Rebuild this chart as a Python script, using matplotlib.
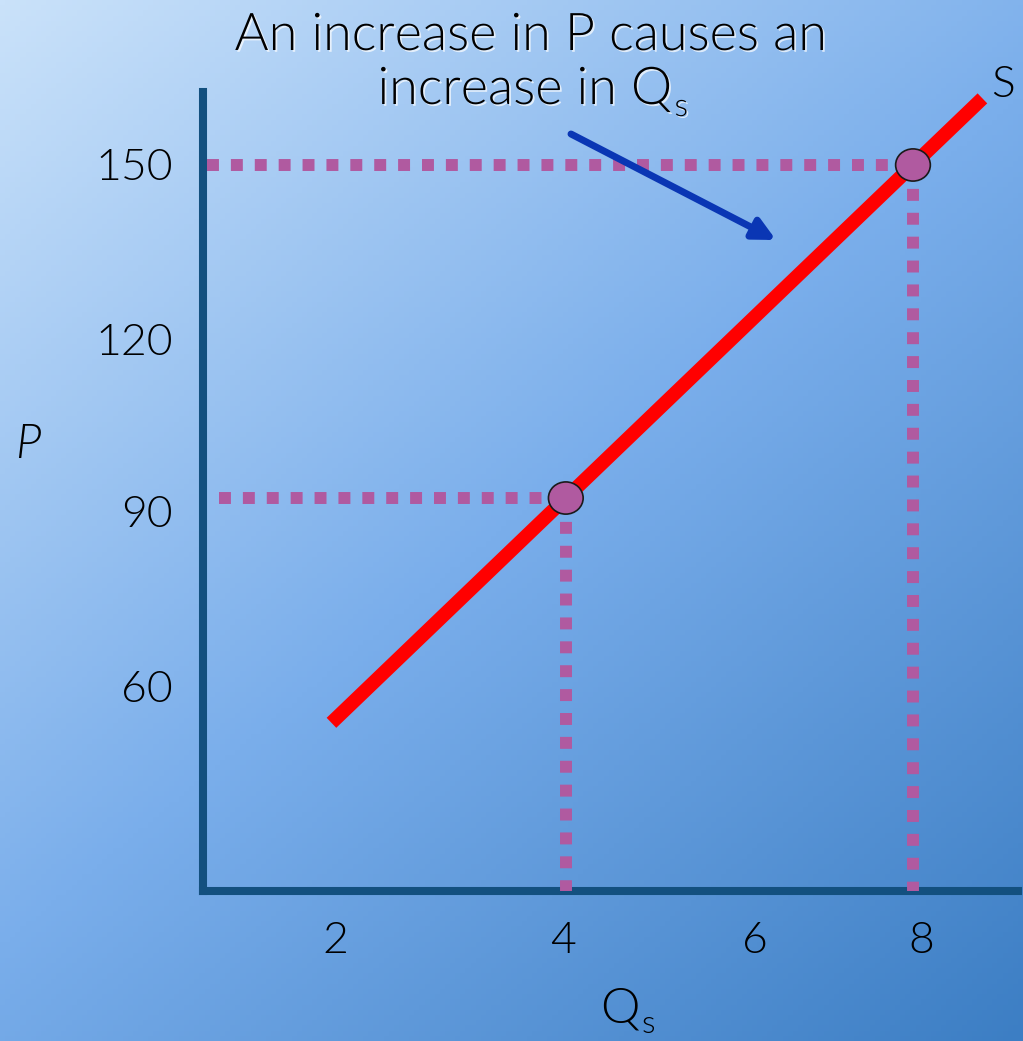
import numpy as np
import matplotlib
matplotlib.use("Agg")
import matplotlib.pyplot as plt
from matplotlib.patches import Ellipse, FancyArrowPatch
import matplotlib.patheffects as pe

# ---- data ----
q_ticks = [2, 4, 6, 8]
p_ticks = [60, 90, 120, 150]
supply_q = [1.3, 8.8]          # quantity supplied at the ends of the S curve
supply_p = [49.5, 162.0]       # price at the ends of the S curve
points_q = [4, 8]
points_p = [90, 150]
title_lines = ["An increase in P causes an", "increase in Q"]

# hand-placed label positions along the axes (data units)
q_label_pos = [1.34, 3.97, 6.18, 8.10]
p_label_pos = [56.1, 87.5, 118.5, 150.0]

FONT = ["Lato", "DejaVu Sans"]
plt.rcParams["font.family"] = FONT
WT = 300

W, H = 1023, 1041
fig = plt.figure(figsize=(W / 100, H / 100), dpi=100)

# diagonal blue gradient backdrop
bg = fig.add_axes([0, 0, 1, 1], zorder=-10)
yy, xx = np.mgrid[0:1:200j, 0:1:200j]
t = np.clip((0.45 * xx + 0.55 * yy), 0, 1)[..., None]
c0 = np.array([202, 226, 250]) / 255
c1 = np.array([122, 174, 235]) / 255
c2 = np.array([60, 126, 196]) / 255
img = np.where(t < 0.5, c0 + (c1 - c0) * (t / 0.5), c1 + (c2 - c1) * ((t - 0.5) / 0.5))
bg.imshow(img, extent=[0, 1, 0, 1], origin="upper", aspect="auto")
bg.axis("off")

ax = fig.add_axes([203 / W, (H - 891) / H, (1018 - 203) / W, (891 - 92) / H])
ax.set_facecolor("none")
ax.set_xlim(-0.18, 9.21)
ax.set_ylim(19.2, 163.15)

spine_c = "#13507f"
for s in ["top", "right"]:
    ax.spines[s].set_visible(False)
for s in ["left", "bottom"]:
    ax.spines[s].set_color(spine_c)
    ax.spines[s].set_linewidth(5.8)
    ax.spines[s].set_capstyle("projecting")

ax.set_xticks(q_label_pos, [str(v) for v in q_ticks])
ax.set_yticks(p_label_pos, [str(v) for v in p_ticks])
ax.tick_params(length=0, labelsize=32, labelcolor="black")
ax.tick_params(axis="x", pad=22)
ax.tick_params(axis="y", pad=22)
for lab in ax.get_xticklabels() + ax.get_yticklabels():
    lab.set_fontweight(WT)

# dotted guides from the points to the axes
dot_c = "#b05aa0"
dot_kw = dict(color=dot_c, lw=8.6, linestyle=(0, (1, 1)), dash_capstyle="butt", zorder=3)
ax.plot([-0.13, points_q[1]], [points_p[1], points_p[1]], **dot_kw)
ax.plot([points_q[1], points_q[1]], [points_p[1], 19.2], **dot_kw)
ax.plot([0.0, points_q[0]], [points_p[0], points_p[0]], **dot_kw)
ax.plot([points_q[0], points_q[0]], [points_p[0], 19.2], **dot_kw)

# supply curve
ax.plot(supply_q, supply_p, color="#ff0000", lw=10, solid_capstyle="butt", zorder=2)

# the two price/quantity combinations
for q, p in zip(points_q, points_p):
    ax.add_patch(Ellipse((q, p), 0.40, 5.8, facecolor="#b05aa0",
                         edgecolor="#1a1a1a", lw=1.2, zorder=5))

ax.text(9.04, 164.4, "S", fontsize=32, fontweight=WT, ha="center", va="center",
        clip_on=False)

# arrow pointing at the curve
arr = FancyArrowPatch((571, H - 134), (776, H - 240), transform=None,
                      arrowstyle="-|>,head_length=13,head_width=6.5",
                      color="#0a36b4", lw=5, mutation_scale=1, shrinkA=0, shrinkB=0)
fig.patches.append(arr)

fig.canvas.draw()
renderer = fig.canvas.get_renderer()


def text_with_sub(x, y, main, sub, size, sub_size, drop, **kw):
    """Draw centred text on a baseline at pixel (x, y from top) plus a subscript."""
    t_main = fig.text(x / W, 1 - y / H, main, fontsize=size, ha="center",
                      va="baseline", **kw)
    bb = t_main.get_window_extent(renderer)
    fig.text((bb.x1 + 2) / W, 1 - (y + drop) / H, sub, fontsize=sub_size,
             ha="left", va="baseline", **kw)
    return t_main


# axis labels
fig.text(28 / W, 1 - 445 / H, "P", fontsize=34, fontweight=WT, style="italic",
         ha="center", va="center")
text_with_sub(620, 1022, "Q", "s", 36, 23, 11, fontweight=WT)

# headline
halo = [pe.SimplePatchShadow(offset=(1.3, -1.3), shadow_rgbFace="white", alpha=0.7),
        pe.Normal()]
fig.text(531 / W, 1 - 50 / H, title_lines[0], fontsize=37.5, fontweight=WT,
         ha="center", va="baseline", path_effects=halo)
text_with_sub(525, 104, title_lines[1], "s", 37.5, 23, 12, fontweight=WT,
              path_effects=halo)

fig.savefig("out.png", dpi=100)
